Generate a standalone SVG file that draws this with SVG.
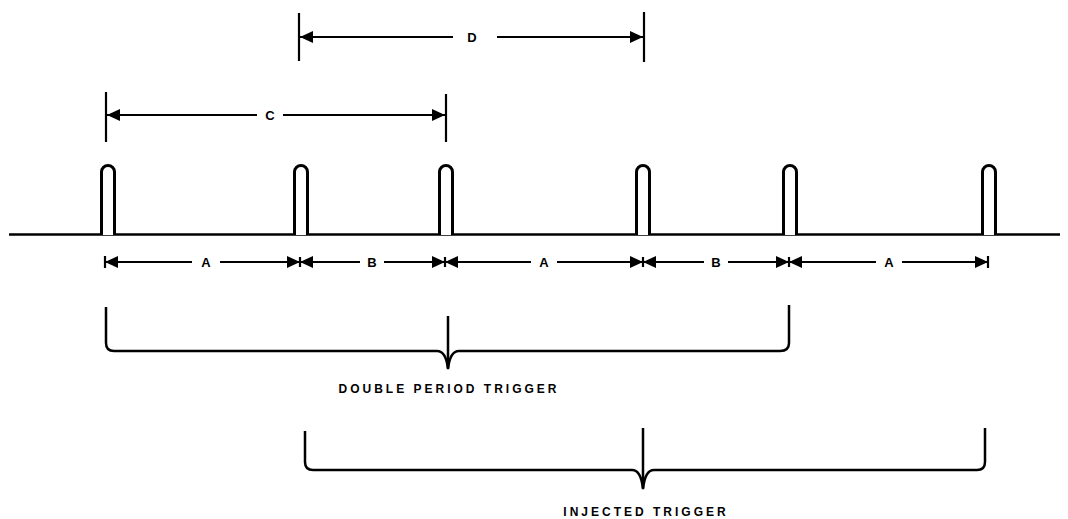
<svg xmlns="http://www.w3.org/2000/svg" width="1068" height="519" viewBox="0 0 1068 519">
<defs>
<marker id="ah" viewBox="0 0 13 12" refX="13" refY="6" markerWidth="13" markerHeight="12" orient="auto" markerUnits="userSpaceOnUse"><path d="M0,0 L13,6 L0,12 z" fill="#000"/></marker>
</defs>
<style>
.ln{stroke:#000;stroke-width:2.2;fill:none}
.dim{stroke:#000;stroke-width:2;fill:none;marker-end:url(#ah)}
.tk{stroke:#000;stroke-width:2.2}
.pulse{stroke:#000;stroke-width:3;fill:#fff}
.br{stroke:#000;stroke-width:2.5;fill:none}
.lbl{font-family:"Liberation Sans",Arial,sans-serif;font-weight:bold;font-size:13px;text-anchor:middle;fill:#000}
.cap{font-family:"Liberation Sans",Arial,sans-serif;font-weight:bold;font-size:12px;letter-spacing:3px;text-anchor:middle;fill:#000}
</style>
<rect width="1068" height="519" fill="#fff"/>
<g id="baseline"><line class="ln" x1="9" y1="234.5" x2="1060" y2="234.5" style="stroke-width:2.5"/></g>
<g id="pulses">
<path class="pulse" d="M101.5,235 V172 A6.5,6.5 0 0 1 114.5,172 V235"/>
<path class="pulse" d="M294.5,235 V172 A6.5,6.5 0 0 1 307.5,172 V235"/>
<path class="pulse" d="M439.5,235 V172 A6.5,6.5 0 0 1 452.5,172 V235"/>
<path class="pulse" d="M636.5,235 V172 A6.5,6.5 0 0 1 649.5,172 V235"/>
<path class="pulse" d="M783.5,235 V172 A6.5,6.5 0 0 1 796.5,172 V235"/>
<path class="pulse" d="M982.5,235 V172 A6.5,6.5 0 0 1 995.5,172 V235"/>
</g>
<g id="connectors">
<!-- D -->
<line class="tk" x1="299" y1="13" x2="299" y2="61"/>
<line class="tk" x1="644" y1="12" x2="644" y2="62"/>
<line class="dim" x1="453" y1="37" x2="300" y2="37"/>
<line class="dim" x1="497" y1="37" x2="643" y2="37"/>
<!-- C -->
<line class="tk" x1="106" y1="92" x2="106" y2="142"/>
<line class="tk" x1="446" y1="94" x2="446" y2="142"/>
<line class="dim" x1="257" y1="115" x2="107" y2="115"/>
<line class="dim" x1="283" y1="115" x2="445" y2="115"/>
<!-- row ticks -->
<line class="tk" x1="105" y1="256" x2="105" y2="268"/>
<line class="tk" x1="300" y1="257" x2="300" y2="267"/>
<line class="tk" x1="445" y1="257" x2="445" y2="267"/>
<line class="tk" x1="643" y1="257" x2="643" y2="267"/>
<line class="tk" x1="789" y1="257" x2="789" y2="267"/>
<line class="tk" x1="988" y1="256" x2="988" y2="268"/>
<!-- A1 -->
<line class="dim" x1="192" y1="262" x2="105" y2="262"/>
<line class="dim" x1="220" y1="262" x2="300" y2="262"/>
<!-- B1 -->
<line class="dim" x1="360" y1="262" x2="300" y2="262"/>
<line class="dim" x1="384" y1="262" x2="445" y2="262"/>
<!-- A2 -->
<line class="dim" x1="531" y1="262" x2="445" y2="262"/>
<line class="dim" x1="557" y1="262" x2="643" y2="262"/>
<!-- B2 -->
<line class="dim" x1="704" y1="262" x2="643" y2="262"/>
<line class="dim" x1="728" y1="262" x2="789" y2="262"/>
<!-- A3 -->
<line class="dim" x1="876" y1="262" x2="789" y2="262"/>
<line class="dim" x1="902" y1="262" x2="988" y2="262"/>
</g>
<g id="labels">
<text class="lbl" x="472" y="42">D</text>
<text class="lbl" x="270" y="120">C</text>
<text class="lbl" x="206" y="267">A</text>
<text class="lbl" x="372" y="267">B</text>
<text class="lbl" x="544" y="267">A</text>
<text class="lbl" x="716" y="267">B</text>
<text class="lbl" x="889" y="267">A</text>
</g>
<g id="double-period-brace">
<path class="br" d="M106,307 V343 Q106,351 114,351 H437 Q446,351 448,369 Q450,351 459,351 H780 Q789,351 789,343 V305"/>
<line class="br" x1="448" y1="316" x2="448" y2="368"/>
<text class="cap" x="449" y="393">DOUBLE PERIOD TRIGGER</text>
</g>
<g id="injected-brace">
<path class="br" d="M305,431 V462 Q305,470 313,470 H632 Q641,470 643,489 Q645,470 654,470 H977 Q985,470 985,462 V428"/>
<line class="br" x1="643" y1="428" x2="643" y2="488"/>
<text class="cap" x="646" y="516">INJECTED TRIGGER</text>
</g>
</svg>
